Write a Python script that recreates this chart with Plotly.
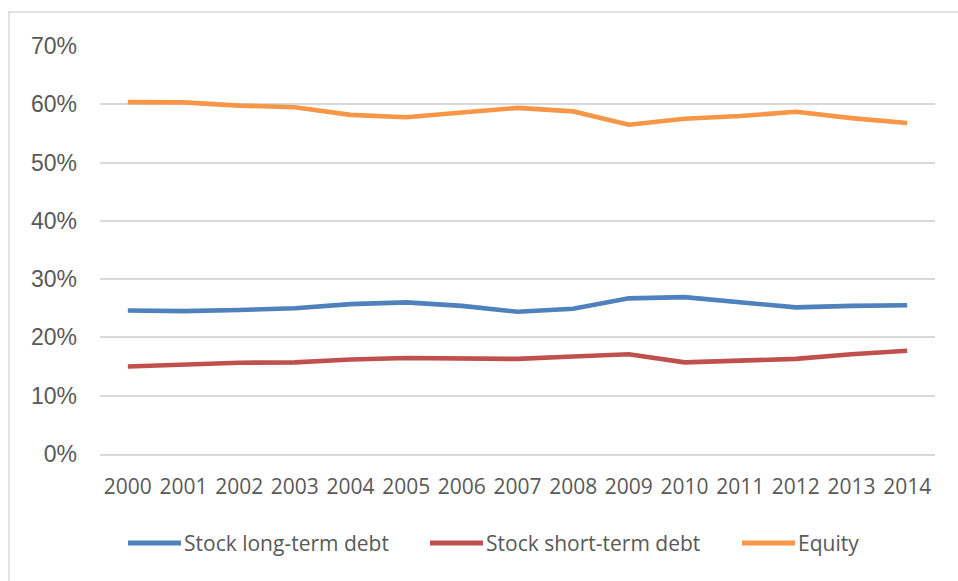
import plotly.graph_objects as go

# Capital structure shares, 2000-2014
years = [str(y) for y in range(2000, 2015)]
long_term_debt = [0.246, 0.245, 0.247, 0.250, 0.257, 0.260, 0.254, 0.244,
                  0.249, 0.267, 0.269, 0.260, 0.2515, 0.254, 0.255]
short_term_debt = [0.150, 0.1525, 0.1565, 0.157, 0.162, 0.1645, 0.163, 0.163,
                   0.167, 0.171, 0.157, 0.1605, 0.163, 0.171, 0.177]
equity = [0.604, 0.6035, 0.598, 0.595, 0.582, 0.578, 0.586, 0.594,
          0.588, 0.565, 0.5755, 0.580, 0.5875, 0.5765, 0.568]

series_names = ["Stock long-term debt", "Stock short-term debt", "Equity"]
series_values = [long_term_debt, short_term_debt, equity]
series_colors = ["#4F81BD", "#C0504D", "#F79646"]

W, H = 958, 581
ML, MR, MT, MB = 100, 23, 46, 127
PW, PH = W - ML - MR, H - MT - MB


def px_to_paper_x(px):
    return (px - ML) / PW


def px_to_paper_y(py):
    return (H - MB - py) / PH


fig = go.Figure()
for name, vals, col in zip(series_names, series_values, series_colors):
    fig.add_trace(go.Scatter(
        x=years, y=vals, name=name, mode="lines",
        line=dict(color=col, width=4.6), showlegend=False,
    ))

text_color = "#595959"
grid_color = "#d9d9d9"

# Hand-placed legend: swatch line + label for each series
legend_x = [128, 430, 742]
swatch_len = 53
legend_y = px_to_paper_y(543)
shapes = []
annotations = []
for name, col, lx in zip(series_names, series_colors, legend_x):
    shapes.append(dict(
        type="line", xref="paper", yref="paper",
        x0=px_to_paper_x(lx), x1=px_to_paper_x(lx + swatch_len),
        y0=legend_y, y1=legend_y,
        line=dict(color=col, width=5),
    ))
    annotations.append(dict(
        xref="paper", yref="paper",
        x=px_to_paper_x(lx + swatch_len + 1), y=legend_y,
        xanchor="left", yanchor="middle", showarrow=False,
        text=name, font=dict(family="Open Sans", size=21, color=text_color),
    ))

# Chart-area border
shapes.append(dict(
    type="rect", xref="paper", yref="paper",
    x0=px_to_paper_x(9), x1=px_to_paper_x(970),
    y0=px_to_paper_y(600), y1=px_to_paper_y(12),
    line=dict(color=grid_color, width=1.5), fillcolor="rgba(0,0,0,0)",
    layer="below",
))

fig.update_layout(
    width=W, height=H,
    margin=dict(l=ML, r=MR, t=MT, b=MB),
    paper_bgcolor="white", plot_bgcolor="white",
    shapes=shapes, annotations=annotations,
    xaxis=dict(
        type="category", range=[-0.5, len(years) - 0.5],
        showgrid=False, zeroline=False,
        showline=True, linecolor=grid_color, linewidth=1.5,
        ticks="", ticklabelstandoff=13,
        tickfont=dict(family="Open Sans", size=21, color=text_color),
    ),
    yaxis=dict(
        range=[-0.0003, 0.7003], dtick=0.1, tickformat=".0%",
        showgrid=True, gridcolor=grid_color, gridwidth=1.5,
        zeroline=False, showline=False, ticks="", ticklabelstandoff=22,
        tickfont=dict(family="Liberation Sans", size=23, color=text_color),
    ),
)

fig.write_html("out.html")
